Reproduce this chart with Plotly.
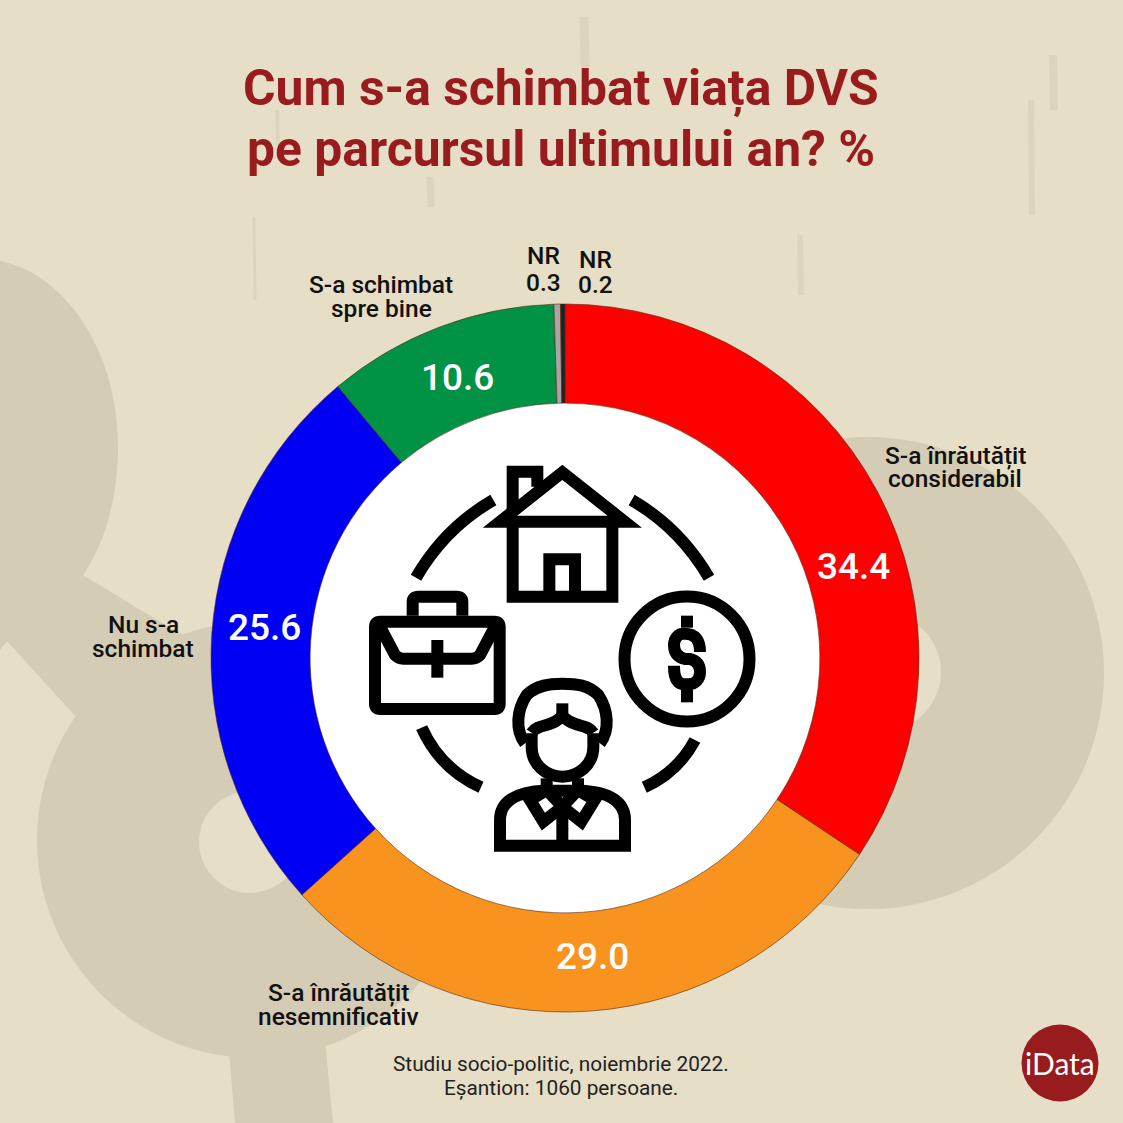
import re
import plotly.graph_objects as go

# Date
categories = ['S-a înrăutățit considerabil', 'S-a înrăutățit nesemnificativ', 'Nu s-a schimbat',
              'S-a schimbat spre bine', 'NR', 'NR ']
values = [34.4, 29.0, 25.6, 10.6, 0.3, 0.2]
colors = ['#ff0000', '#f7931e', '#0000f5', '#009245', '#a6a6a6', '#222222']

title_lines = ['Cum s-a schimbat viața DVS', 'pe parcursul ultimului an? %']
footer_lines = ['Studiu socio-politic, noiembrie 2022.', 'Eșantion: 1060 persoane.']

BG = '#e6dec6'
BLOB = '#d5ccb6'
WINE = '#981b1e'
W = 1123


def px(x):
    return x / W


def py(y):
    return 1 - y / W


def text(x, y, s, size, color='#111111', weight=500, family='Roboto'):
    return dict(x=px(x), y=py(y), xref='paper', yref='paper', text=s, showarrow=False,
                xanchor='center', yanchor='middle', font=dict(family=family, size=size, color=color, weight=weight))


def circle(cx, cy, r, color, layer='below', line=None, lw=0):
    return dict(type='circle', xref='paper', yref='paper', x0=px(cx - r), x1=px(cx + r),
                y0=py(cy + r), y1=py(cy - r), fillcolor=color, layer=layer,
                line=dict(color=line or color, width=lw))


def scale_path(path, zoom):
    # coordonate in pixeli (zoom=False) sau din crop-ul iconitei (zoom=True, 3x, origine 350,450)
    def conv(m):
        x, y = float(m.group(1)), float(m.group(2))
        if zoom:
            x, y = 350 + x / 3, 450 + y / 3
        return f'{px(x):.5f},{py(y):.5f}'
    return re.sub(r'(-?\d+\.?\d*),(-?\d+\.?\d*)', conv, path)


def blob(path):
    return dict(type='path', xref='paper', yref='paper', path=scale_path(path, False),
                fillcolor=BLOB, line=dict(width=0), layer='below')


def streak(x, y0, y1, width):
    # zgarieturi discrete din fundal
    return dict(type='line', xref='paper', yref='paper', x0=px(x), x1=px(x + 1), y0=py(y0), y1=py(y1),
                line=dict(color='#d8cfb8', width=width), opacity=0.6, layer='below')


def icon(path):
    return dict(type='path', xref='paper', yref='paper', path=scale_path(path, True),
                line=dict(color='black', width=12), layer='above')


fig = go.Figure(go.Pie(
    labels=categories, values=values, hole=0.72, sort=False, direction='clockwise', rotation=0,
    marker=dict(colors=colors, line=dict(color='#5a2a10', width=0.6)),
    textinfo='none', hoverinfo='label+value', showlegend=False,
    domain=dict(x=[px(211), px(919)], y=[py(1012), py(304)]),
))

shapes = [
    # fundal
    streak(584, 17, 67, 9),
    streak(430, 177, 207, 7),
    streak(254, 217, 300, 3),
    streak(1031, 100, 215, 6),
    streak(1053, 55, 110, 8),
    streak(277, 110, 145, 4),
    streak(800, 235, 295, 6),
    blob('M0,261 C60,272 118,345 118,446 C118,500 104,545 83,575 L190,640 L76,717 L7,641 L0,650 Z'),
    circle(255, 840, 218, BLOB),
    blob('M228,1040 L325,1040 L333,1123 L235,1123 Z'),
    circle(250, 842, 51, BG),
    circle(868, 673, 236, BLOB),
    circle(882, 672, 59, BG),
    # centrul inelului
    circle(565, 658, 256, 'white'),
    # casa
    icon('M637,67 L450,215 L824,215 Z'),
    icon('M488,215 L488,440 L787,440 L787,215'),
    icon('M488,190 L488,65 L562,65 L562,110'),
    icon('M598,440 L598,328 L675,328 L675,440'),
    # dolar
    circle(687, 659, 62.5, 'rgba(0,0,0,0)', 'above', 'black', 12),
    icon('M1050,606 C1050,570 1035,551 1005,551 L1000,551 C985,551 972,565 972,585 C972,610 985,622 1005,627 '
         'L1020,627 C1040,632 1050,645 1050,665 C1050,688 1035,703 1015,703 L1005,703 C985,703 972,690 972,647'),
    icon('M1011,497 L1011,533'),
    icon('M1011,720 L1011,757'),
    # servieta
    icon('M90,515 L434,515 Q449,515 449,530 L449,762 Q449,777 434,777 L90,777 Q75,777 75,762 L75,530 Q75,515 90,515 Z'),
    icon('M188,497 L188,455 Q188,440 205,440 L320,440 Q337,440 337,455 L337,497'),
    icon('M90,530 L135,615 Q145,626 160,626 L365,626 Q380,626 390,615 L435,530'),
    icon('M262,570 L262,683'),
    # persoana
    icon('M525,880 C495,840 500,780 530,735 C560,705 600,701 637,701 C680,701 715,705 745,735 '
         'C775,780 780,840 750,880'),
    icon('M545,848 C560,825 590,830 615,815 L637,800 L660,815 C685,830 715,825 730,848'),
    icon('M637,760 L637,805'),
    icon('M545,850 L545,890 C545,945 590,980 637,980 C685,980 730,945 730,890 L730,850'),
    icon('M590,985 L590,1022'),
    icon('M684,985 L684,1022'),
    icon('M450,1187 L450,1110 C450,1060 490,1025 585,1022 L690,1022 C785,1025 825,1060 825,1110 L825,1187 Z'),
    icon('M637,1060 L637,1187'),
    icon('M590,1020 L540,1050 L580,1115 L637,1070 Z'),
    icon('M684,1020 L734,1050 L694,1115 L637,1070 Z'),
    # arce
    icon('M198,383 Q284,234 430,150'),
    icon('M845,150 Q990,234 1077,383'),
    icon('M215,833 Q270,956 393,1012'),
    icon('M883,1012 Q983,967 1035,870'),
    # logo
    circle(1060, 1063, 38.5, WINE),
]

annotations = [
    text(561, 89, title_lines[0], 49.8, WINE, 700),
    text(561, 149, title_lines[1], 49.8, WINE, 700),
    text(561, 1064, footer_lines[0], 20.8, '#222222', 400),
    text(561, 1088, footer_lines[1], 20.8, '#222222', 400),
    text(853, 566, f'{values[0]:.1f}', 37, 'white'),
    text(592, 956, f'{values[1]:.1f}', 37, 'white'),
    text(264, 627, f'{values[2]:.1f}', 37, 'white'),
    text(457, 377, f'{values[3]:.1f}', 37, 'white'),
    text(955, 455, 'S-a înrăutățit', 24.5),
    text(955, 479, 'considerabil', 24.5),
    text(338, 992, 'S-a înrăutățit', 24.5),
    text(338, 1016, 'nesemnificativ', 24.5),
    text(143, 624, 'Nu s-a', 24.5),
    text(143, 648, 'schimbat', 24.5),
    text(381, 284, 'S-a schimbat', 24.5),
    text(381, 309, 'spre bine', 24.5),
    text(543, 256, 'NR', 24.5),
    text(543, 282, f'{values[4]}', 24.5),
    text(595, 259, 'NR', 24.5),
    text(595, 284, f'{values[5]}', 24.5),
    text(1060, 1063, 'iData', 30, 'white', 400, 'Lato'),
]

fig.update_layout(
    width=W, height=W, margin=dict(l=0, r=0, t=0, b=0),
    paper_bgcolor=BG, plot_bgcolor=BG,
    shapes=shapes, annotations=annotations,
)

fig.write_html('out.html', config={'displayModeBar': False}, post_script="document.body.style.margin='0';")
